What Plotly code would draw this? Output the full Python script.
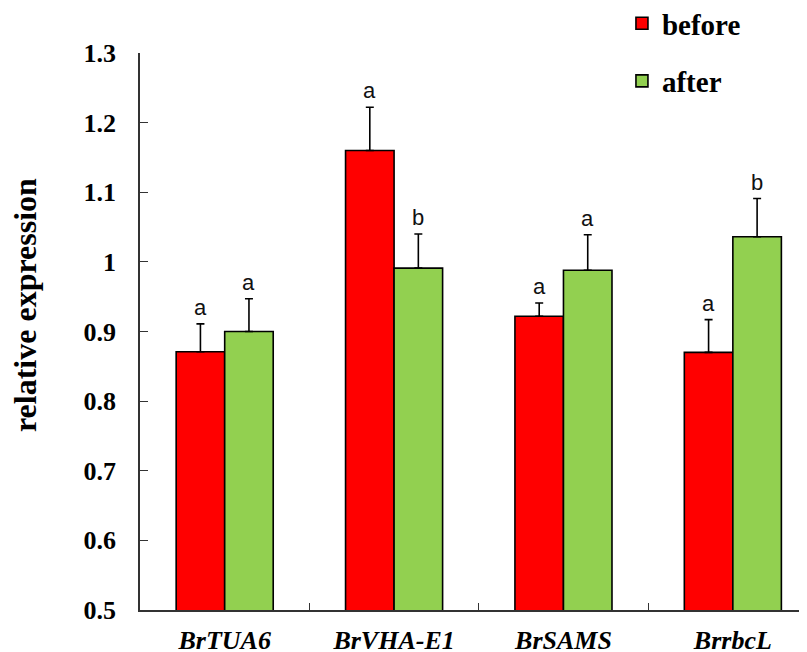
import plotly.graph_objects as go

genes = ["BrTUA6", "BrVHA-E1", "BrSAMS", "BrrbcL"]
before_vals = [0.871, 1.160, 0.922, 0.870]
before_err = [0.040, 0.062, 0.019, 0.047]
after_vals = [0.900, 0.991, 0.988, 1.036]
after_err = [0.047, 0.049, 0.051, 0.055]
before_letters = ["a", "a", "a", "a"]
after_letters = ["a", "b", "a", "b"]
ytick_vals = [0.5, 0.6, 0.7, 0.8, 0.9, 1.0, 1.1, 1.2, 1.3]
ytick_text = ["0.5", "0.6", "0.7", "0.8", "0.9", "1", "1.1", "1.2", "1.3"]

RED = "#FF0000"
GREEN = "#92D050"
SERIF = "Liberation Serif"
SANS = "Liberation Sans"

fig = go.Figure()
fig.add_trace(go.Bar(
    name="before", x=genes, y=before_vals, base=0,
    marker=dict(color=RED, line=dict(color="black", width=1.6)),
    error_y=dict(type="data", symmetric=False, array=before_err,
                 arrayminus=[0] * len(before_err), color="black",
                 thickness=1.6, width=4),
    legendgroup="b",
))
fig.add_trace(go.Bar(
    name="after", x=genes, y=after_vals, base=0,
    marker=dict(color=GREEN, line=dict(color="black", width=1.6)),
    error_y=dict(type="data", symmetric=False, array=after_err,
                 arrayminus=[0] * len(after_err), color="black",
                 thickness=1.6, width=4),
    legendgroup="a",
))

annotations = []
for i, g in enumerate(genes):
    for vals, errs, letters, shift in ((before_vals, before_err, before_letters, -24.3),
                                        (after_vals, after_err, after_letters, 24.3)):
        annotations.append(dict(
            x=g, y=vals[i] + errs[i], xref="x", yref="y",
            text=letters[i], showarrow=False, xshift=shift, yshift=2,
            yanchor="bottom", xanchor="center",
            font=dict(family=SANS, size=22, color="#111111"),
        ))
annotations.append(dict(
    x=-0.170, y=0.548, xref="paper", yref="paper", text="<b>relative expression</b>",
    textangle=-90, showarrow=False, xanchor="center", yanchor="middle",
    font=dict(family=SERIF, size=32, color="black"),
))

fig.update_layout(
    width=807, height=652,
    margin=dict(l=132, r=0, t=45, b=50, autoexpand=False),
    paper_bgcolor="white", plot_bgcolor="white",
    barmode="group", bargap=0.427, bargroupgap=0,
    annotations=annotations,
    showlegend=True,
    legend=dict(x=0.714, y=1.099, xanchor="left", yanchor="top",
                font=dict(family=SERIF, size=29, color="black", weight="bold"),
                traceorder="grouped", tracegroupgap=17,
                bgcolor="rgba(0,0,0,0)"),
    xaxis=dict(
        range=[-0.5, 3.485], showline=True, linecolor="#333333", linewidth=1.5,
        ticks="inside", tickson="boundaries", ticklen=7, tickcolor="#333333",
        tickwidth=1.3, showgrid=False, zeroline=False, automargin=False,
        tickfont=dict(family=SERIF, size=26, color="black", weight="bold", style="italic"),
        ticklabelstandoff=6,
    ),
    yaxis=dict(
        range=[0.5, 1.3], showline=True, linecolor="#333333", linewidth=1.5,
        ticks="inside", ticklen=8, tickcolor="#333333", tickwidth=1.3,
        tickvals=ytick_vals, ticktext=ytick_text, automargin=False,
        showgrid=False, zeroline=False,
        tickfont=dict(family=SERIF, size=26, color="black", weight="bold"),
        ticklabelstandoff=17,
    ),
)

fig.write_html("out.html")
